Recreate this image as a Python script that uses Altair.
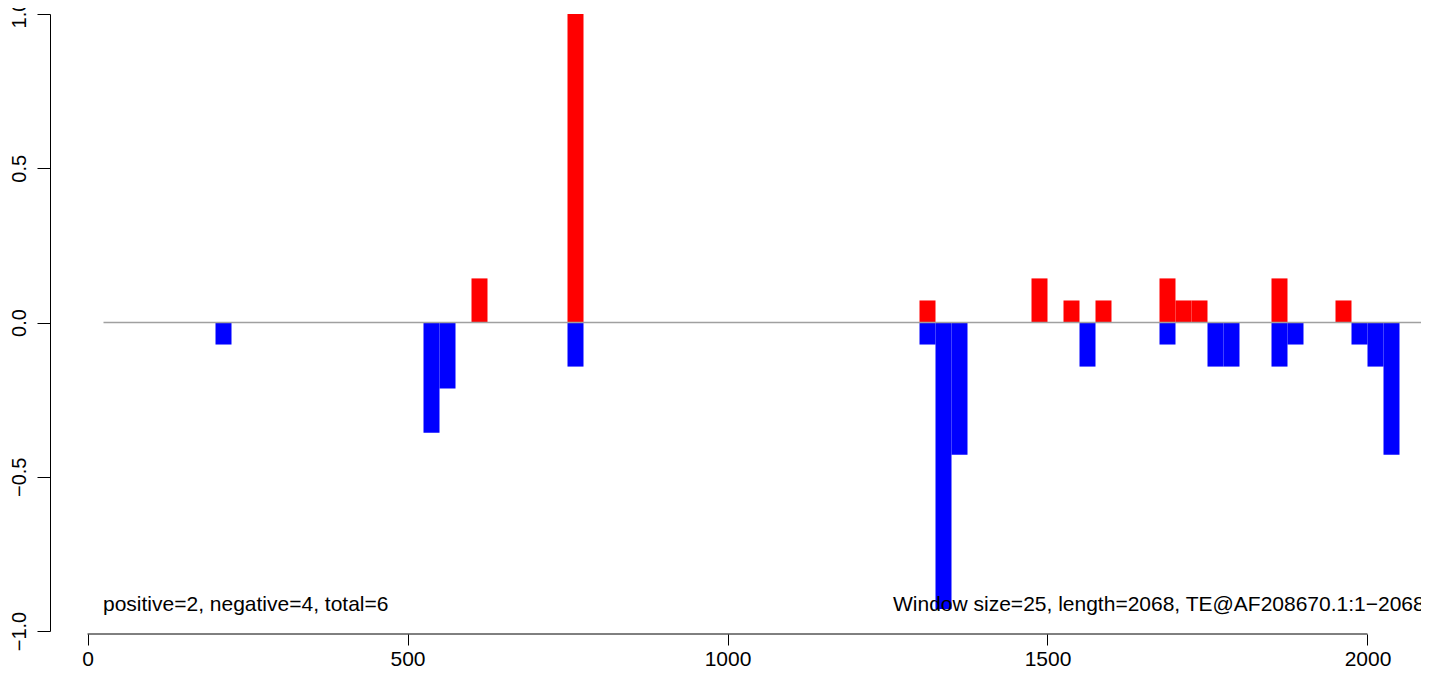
import altair as alt
import pandas as pd

# Window starts (bp) and scores
pos_starts = [600, 750, 1300, 1475, 1525, 1575, 1675, 1700, 1725, 1850, 1950]
pos_vals = [0.1429, 1.0, 0.0714, 0.1429, 0.0714, 0.0714, 0.1429, 0.0714, 0.0714, 0.1429, 0.0714]
neg_starts = [200, 525, 550, 750, 1300, 1325, 1350, 1550, 1675, 1750, 1775, 1850, 1875, 1975, 2000, 2025]
neg_vals = [-0.0714, -0.3571, -0.2143, -0.1429, -0.0714, -0.9286, -0.4286, -0.1429, -0.0714,
            -0.1429, -0.1429, -0.1429, -0.0714, -0.0714, -0.1429, -0.4286]
window = 25

x_ticks = [0, 500, 1000, 1500, 2000]
y_ticks = [-1.0, -0.5, 0.0, 0.5, 1.0]
left_note = "positive=2, negative=4, total=6"
right_note = "Window size=25, length=2068, TE@AF208670.1:1\u22122068"

rows = []
for s, v in zip(pos_starts, pos_vals):
    rows.append({"start": s, "end": s + window, "val": v, "base": 0.0, "sign": "pos"})
for s, v in zip(neg_starts, neg_vals):
    rows.append({"start": s, "end": s + window, "val": v, "base": 0.0, "sign": "neg"})
bars_df = pd.DataFrame(rows)

FONT = "Liberation Sans"
FS = 21

xscale = alt.Scale(domain=[-58.6, 2083.6], nice=False, zero=False)
yscale = alt.Scale(domain=[-1, 1], nice=False, zero=False)

xaxis = alt.Axis(values=x_ticks, format="d", domain=False, grid=False, title=None,
                 tickSize=11, tickColor="black", tickWidth=1, offset=3,
                 labelFont=FONT, labelFontSize=FS, labelColor="black", labelPadding=3,
                 labelBaseline="top", labelFlush=False, labelOverlap=False)
yaxis = alt.Axis(values=y_ticks, format=".1f", domain=True, domainColor="black", domainWidth=1,
                 grid=False, title=None, tickSize=13, tickColor="black", tickWidth=1,
                 labelAngle=270, labelAlign="center", labelBaseline="alphabetic",
                 labelPadding=12, labelFont=FONT, labelFontSize=20, labelColor="black",
                 labelFlush=False, labelOverlap=False)

bars = alt.Chart(bars_df).mark_rect().encode(
    x=alt.X("start:Q", scale=xscale, axis=xaxis),
    x2="end:Q",
    y=alt.Y("val:Q", scale=yscale, axis=yaxis),
    y2="base:Q",
    color=alt.Color("sign:N", scale=alt.Scale(domain=["pos", "neg"], range=["#FF0000", "#0000FF"]),
                    legend=None),
)

zero_df = pd.DataFrame({"x": [25], "x2": [2150], "y": [0.0]})
zero_line = alt.Chart(zero_df).mark_rule(color="#A0A0A0", strokeWidth=1.3, clip=True).encode(
    x=alt.X("x:Q", scale=xscale), x2="x2:Q", y=alt.Y("y:Q", scale=yscale)
)

axis_df = pd.DataFrame({"x": [x_ticks[0]], "x2": [x_ticks[-1]]})
axis_line = alt.Chart(axis_df).mark_rule(color="black", strokeWidth=1).encode(
    x=alt.X("x:Q", scale=xscale), x2="x2:Q", y=alt.value(620)
)

left_txt = alt.Chart(pd.DataFrame({"t": [left_note]})).mark_text(
    align="left", baseline="alphabetic", font=FONT, fontSize=FS, color="black"
).encode(x=alt.value(53), y=alt.value(597), text="t:N")

right_txt = alt.Chart(pd.DataFrame({"t": [right_note]})).mark_text(
    align="left", baseline="alphabetic", font=FONT, fontSize=FS, color="black"
).encode(x=alt.value(843), y=alt.value(597), text="t:N")

chart = alt.layer(bars, zero_line, axis_line, left_txt, right_txt).properties(
    width=1371, height=617,
    padding={"left": 42, "top": 6, "right": 0, "bottom": 39},
    autosize=alt.AutoSizeParams(type="none"),
).configure(background="white").configure_view(stroke=None)

chart.save("out.html", embed_options={"renderer": "svg", "actions": False})
